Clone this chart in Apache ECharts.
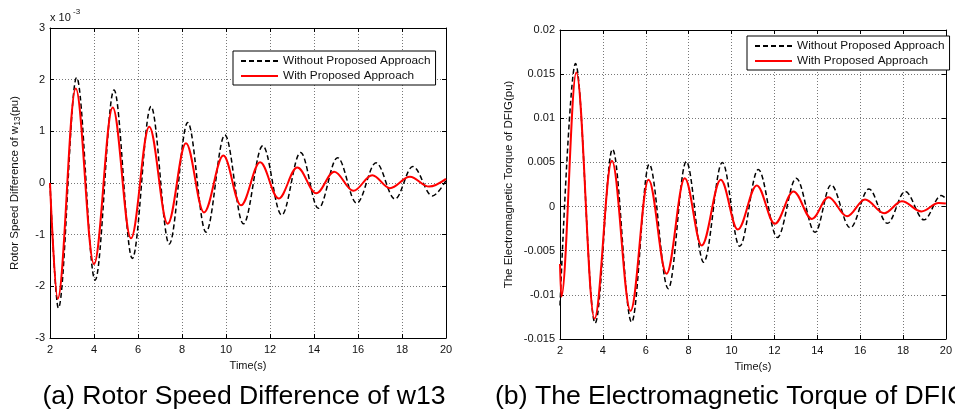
<!DOCTYPE html>
<html>
<head>
<meta charset="utf-8">
<script src="https://cdn.jsdelivr.net/npm/echarts@6/dist/echarts.min.js"></script>
<style>
  html, body { margin: 0; padding: 0; background: #fff; }
  #chart { width: 955px; height: 415px; }
</style>
</head>
<body>
<div id="chart"></div>
<script>
// (a) rotor speed difference, values in units of 1e-3 pu, [time, value] at turning points
const speedWithout = [
  [2, 0], [2.38, -2.42], [3.21, 2.04], [4.05, -1.88], [4.91, 1.80], [5.74, -1.46],
  [6.59, 1.48], [7.42, -1.18], [8.26, 1.17], [9.09, -0.95], [9.95, 0.93],
  [10.79, -0.79], [11.67, 0.72], [12.53, -0.62], [13.39, 0.59], [14.2, -0.49],
  [15.07, 0.49], [15.94, -0.39], [16.82, 0.39], [17.68, -0.31], [18.49, 0.32],
  [19.38, -0.25], [20, 0.05]
];
const speedWith = [
  [2, 0], [2.35, -2.24], [3.17, 1.83], [4.0, -1.57], [4.85, 1.46], [5.68, -1.07],
  [6.51, 1.09], [7.35, -0.79], [8.18, 0.77], [9.0, -0.57], [9.88, 0.53],
  [10.68, -0.43], [11.55, 0.40], [12.39, -0.30], [13.24, 0.30], [14.1, -0.20],
  [14.92, 0.22], [15.79, -0.15], [16.65, 0.15], [17.45, -0.10], [18.36, 0.12],
  [19.23, -0.07], [20, 0.08]
];

// (b) electromagnetic torque of DFIG, pu
const torqueWithout = [
  [2, -0.0112], [2.72, 0.0162], [3.64, -0.0132], [4.45, 0.0065], [5.34, -0.0131],
  [6.16, 0.0048], [7.05, -0.0093], [7.89, 0.0051], [8.70, -0.0063], [9.57, 0.0050],
  [10.38, -0.0045], [11.25, 0.0042], [12.14, -0.0035], [13.02, 0.0032],
  [13.90, -0.0029], [14.64, 0.00245], [15.54, -0.0024], [16.41, 0.0020],
  [17.27, -0.0019], [18.10, 0.0017], [18.98, -0.0015], [19.78, 0.00125], [20, 0.0009]
];
const torqueWith = [
  [2, -0.0065], [2.06, -0.0102], [2.76, 0.0152], [3.61, -0.0127], [4.42, 0.0052],
  [5.29, -0.0118], [6.13, 0.00305], [6.97, -0.0076], [7.82, 0.0032], [8.61, -0.0044],
  [9.5, 0.00305], [10.29, -0.0026], [11.18, 0.0024], [12.02, -0.00195],
  [12.89, 0.0017], [13.75, -0.0014], [14.52, 0.00105], [15.39, -0.0011],
  [16.23, 0.0008], [17.12, -0.00075], [17.95, 0.0006], [18.86, -0.00055],
  [19.66, 0.0004], [20, 0.00035]
];

const seriesNames = ['Without Proposed Approach', 'With Proposed Approach'];
const timeRange = [2, 20];
const speedRange = [-3, 3];
const torqueRange = [-0.015, 0.02];

const FONT = 'Liberation Sans, Arial, sans-serif';
const chart = echarts.init(document.getElementById('chart'), null, { renderer: 'canvas' });

function xAxisFor(grid, top, withName) {
  return {
    type: 'value', gridIndex: grid, position: top ? 'top' : 'bottom',
    min: timeRange[0], max: timeRange[1], interval: 2,
    name: withName ? 'Time(s)' : '', nameLocation: 'middle', nameGap: 22,
    nameTextStyle: { fontFamily: FONT, fontSize: 11, color: '#111' },
    axisLine: { show: true, onZero: false, lineStyle: { color: '#000', width: 1 } },
    axisTick: { show: true, inside: true, length: 4, lineStyle: { color: '#000' } },
    axisLabel: { show: !top, margin: 6, fontFamily: FONT, fontSize: 11, color: '#111' },
    splitLine: { show: !top, lineStyle: { color: '#777', type: [1, 2] } }
  };
}

function yAxisFor(grid, right, range, step, name, gap) {
  return {
    type: 'value', gridIndex: grid, position: right ? 'right' : 'left',
    min: range[0], max: range[1], interval: step,
    name: right ? '' : name, nameLocation: 'middle', nameGap: gap, nameRotate: 90,
    nameTextStyle: {
      fontFamily: FONT, fontSize: 11.5, color: '#111',
      rich: {
        n: { fontFamily: FONT, fontSize: 11.5, color: '#111' },
        s: { fontFamily: FONT, fontSize: 8.5, color: '#111', padding: [5, 0, 0, 0] }
      }
    },
    axisLine: { show: true, onZero: false, lineStyle: { color: '#000', width: 1 } },
    axisTick: { show: true, inside: true, length: 4, lineStyle: { color: '#000' } },
    axisLabel: { show: !right, margin: 5, fontFamily: FONT, fontSize: 11, color: '#111' },
    splitLine: { show: !right, lineStyle: { color: '#777', type: [1, 2] } }
  };
}

function lineSeries(name, data, grid, dashed) {
  return {
    name: name, type: 'line', xAxisIndex: grid * 2, yAxisIndex: grid * 2,
    data: data, symbol: 'none', smooth: 0.36, smoothMonotone: 'x',
    lineStyle: dashed
      ? { color: '#000', width: 1.5, type: [5, 3] }
      : { color: '#ff0000', width: 2 },
    itemStyle: { color: dashed ? '#000' : '#ff0000' },
    z: dashed ? 2 : 3
  };
}

function legendAt(left, top) {
  return {
    data: seriesNames, left: left, top: top, orient: 'vertical',
    padding: [4, 5, 3, 7], itemGap: 3, itemWidth: 37, itemHeight: 14,
    backgroundColor: '#fff', borderColor: '#000', borderWidth: 1, borderRadius: 0,
    itemStyle: { opacity: 0 },
    textStyle: { fontFamily: FONT, fontSize: 11.8, color: '#111' },
    selectedMode: false
  };
}

const option = {
  animation: false,
  backgroundColor: '#fff',
  grid: [
    { left: 50, top: 28, width: 396, height: 310 },
    { left: 560, top: 30, width: 393, height: 309 }
  ],
  xAxis: [xAxisFor(0, false, true), xAxisFor(0, true, false), xAxisFor(1, false, true), xAxisFor(1, true, false)],
  yAxis: [
    yAxisFor(0, false, speedRange, 1, '{n|Rotor Speed Difference of w}{s|13}{n|(pu)}', 28),
    yAxisFor(0, true, speedRange, 1, '', 0),
    yAxisFor(1, false, torqueRange, 0.005, 'The Electromagnetic Torque of DFIG(pu)', 45),
    yAxisFor(1, true, torqueRange, 0.005, '', 0)
  ],
  legend: [legendAt(233, 51), legendAt(747, 36)],
  series: [
    lineSeries(seriesNames[0], speedWithout, 0, true),
    lineSeries(seriesNames[1], speedWith, 0, false),
    lineSeries(seriesNames[0], torqueWithout, 1, true),
    lineSeries(seriesNames[1], torqueWith, 1, false)
  ],
  graphic: [
    { type: 'text', x: 50, y: 18, style: { text: 'x 10', font: '11px ' + FONT, fill: '#111', textVerticalAlign: 'middle' } },
    { type: 'text', x: 73, y: 12, style: { text: '-3', font: '8px ' + FONT, fill: '#111', textVerticalAlign: 'middle' } },
    { type: 'text', x: 244, y: 397, style: { text: '(a) Rotor Speed Difference of w13', font: '26.6px ' + FONT, fill: '#000', textAlign: 'center', textVerticalAlign: 'middle' } },
    { type: 'text', x: 495, y: 397, style: { text: '(b) The Electromagnetic Torque of DFIG', font: '26.6px ' + FONT, fill: '#000', textAlign: 'left', textVerticalAlign: 'middle' } }
  ]
};

chart.setOption(option);
</script>
</body>
</html>
